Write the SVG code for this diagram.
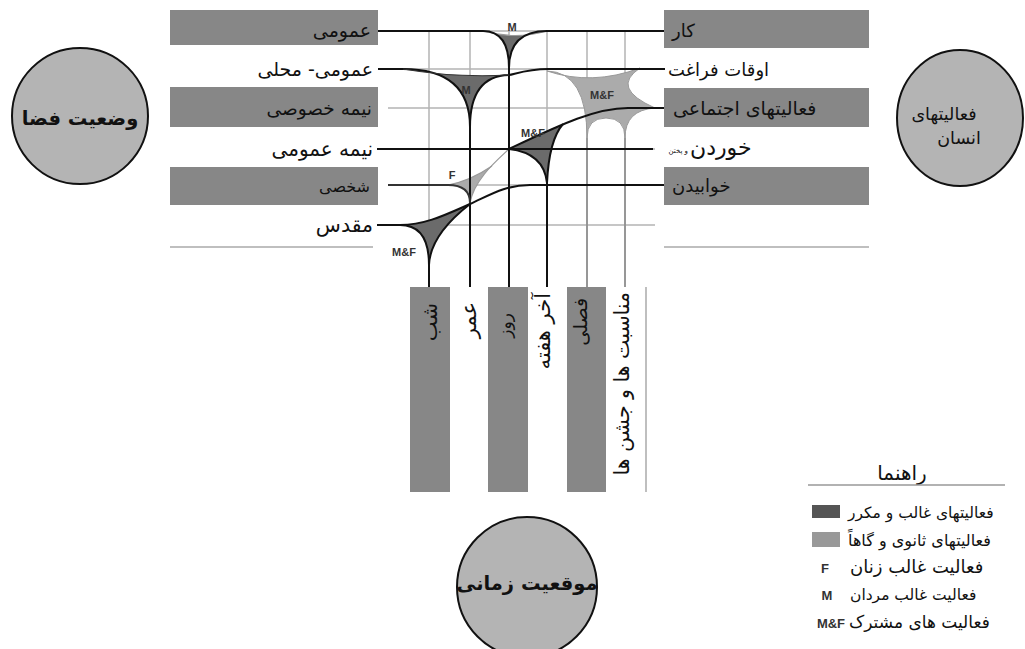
<svg xmlns="http://www.w3.org/2000/svg" width="1025" height="649" viewBox="0 0 1025 649">
<style>
.bar{fill:#878787}
.grid{stroke:#b4b4b4;stroke-width:1.5;fill:none}
.ln{stroke:#111;stroke-width:2;fill:none}
.thin{stroke:#999;stroke-width:1.2;fill:none}
.dk{fill:#6b6b6b}
.lt{fill:#ababab}
.t{font-family:"DejaVu Sans",sans-serif;fill:#111}
.lab{font-family:"Liberation Sans",Arial,sans-serif;font-weight:bold;fill:#333}
.circ{fill:#b4b4b4;stroke:#111;stroke-width:2}
.ct{font-family:"DejaVu Sans",sans-serif;fill:#111}
</style>
<rect width="1025" height="649" fill="#fff"/>

<g id="connectors">
  <g id="grid" class="grid">
    <path d="M388,31H655M388,69H655M388,108H655M388,149H655M388,185H655M388,225H655"/>
    <path d="M429,31V287M470,31V287M509,31V287M547,31V287M587,31V287M625,31V287"/>
  </g>
  <g id="regions">
    <path class="dk" d="M483,31 Q509,31 509,68 Q509,31 547,31 Q515,40 483,31 Z"/>
    <path class="dk" d="M403,69 Q470,69 470,127 Q470,76 509,75 Q455,78 403,69 Z"/>
    <path class="lt" stroke="#999" stroke-width="1" d="M547,71 Q587,72 587,138 Q587,118 606,118 Q625,118 625,138 Q625,110 655,108 Q610,88 640,68 Q592,86 547,71 Z"/>
    <path class="dk" d="M509,149 Q538,134 563,124 Q549,140 547,183 Q544,153 509,149 Z"/>
    <path class="lt" d="M448,185 Q470,185 470,203 C474,185 483,174 492,166 Q470,181 448,185 Z"/>
    <path class="dk" d="M400,225 Q429,225 429,265 C430,240 452,218 470,204 C445,215 425,225 400,225 Z"/>
  </g>
  <g id="lines">
    <path d="M587,138V287M625,138V287" stroke="#888" stroke-width="1.5" fill="none"/>
    <path class="thin" d="M483,31 Q515,40 547,31"/>
    <path class="thin" d="M509,149 C495,162 474,180 470,203"/>
    <path class="thin" d="M448,185 Q470,181 492,166"/>
    <path class="ln" d="M378,31 H483 Q509,31 509,68 V287"/>
    <path class="ln" d="M664,31 H547 Q509,31 509,68"/>
    <path class="ln" d="M378,69 H403 Q470,69 470,127 V287"/>
    <path class="ln" d="M665,69 H548 C528,69 515,74 509,75 Q470,76 470,127"/>
    <path d="M403,69 Q455,78 509,75" stroke="#333" stroke-width="1.2" fill="none"/>
    <path class="ln" d="M377,149 H653"/>
    <path class="ln" d="M664,108 H628 C595,108 560,125 509,149"/>
    <path class="ln" d="M563,124 Q549,140 547,183 V287"/>
    <path class="ln" d="M509,149 Q544,153 547,183"/>
    <path d="M388,185 H448 Q470,185 470,203" stroke="#333" stroke-width="2" fill="none"/>
    <path class="ln" d="M664,185 H530 C505,185 490,195 470,204 C445,215 425,225 400,225 H377"/>
    <path class="ln" d="M400,225 Q429,225 429,265 V287"/>
    <path class="ln" d="M470,204 C452,218 430,240 429,265"/>
    <path d="M170,247H373M664,247H869M646,287V492" stroke="#aaa" stroke-width="1.5" fill="none"/>
  </g>
  <g id="region-labels" class="lab" text-anchor="middle" font-size="11">
    <text x="512" y="31">M</text>
    <text x="466" y="94">M</text>
    <text x="602" y="99">M&amp;F</text>
    <text x="533" y="137">M&amp;F</text>
    <text x="452" y="179">F</text>
    <text x="404" y="256">M&amp;F</text>
  </g>
</g>

<g id="space">
  <circle class="circ" cx="80" cy="116" r="68"/>
  <text class="ct" x="80" y="125" text-anchor="middle" font-size="19.5" font-weight="bold">وضعیت فضا</text>
</g>
<g id="space-rows" class="t" text-anchor="end" font-size="19">
  <g id="s1"><rect class="bar" x="170" y="10" width="208" height="35"/><text x="371" y="37">عمومی</text></g>
  <g id="s2"><text x="373" y="76">عمومی- محلی</text></g>
  <g id="s3"><rect class="bar" x="170" y="87" width="208" height="40"/><text x="372" y="115" font-size="18.5">نیمه خصوصی</text></g>
  <g id="s4"><text x="373" y="156" font-size="20">نیمه عمومی</text></g>
  <g id="s5"><rect class="bar" x="170" y="167" width="208" height="38"/><text x="370" y="192" font-size="16">شخصی</text></g>
  <g id="s6"><text x="373" y="232" font-size="20.5">مقدس</text></g>
</g>

<g id="activity">
  <ellipse class="circ" cx="960" cy="118" rx="63" ry="68"/>
  <text class="ct" x="944" y="120" text-anchor="middle" font-size="17.5">فعالیتهای</text>
  <text class="ct" x="959" y="144" text-anchor="middle" font-size="17.5">انسان</text>
</g>
<g id="activity-rows" class="t" text-anchor="start" font-size="19">
  <g id="a1"><rect class="bar" x="664" y="10" width="205" height="38"/><text x="672" y="37" font-size="18">کار</text></g>
  <g id="a2"><text x="668" y="76" font-size="18">اوقات فراغت</text></g>
  <g id="a3"><rect class="bar" x="664" y="88" width="205" height="39"/><text x="673" y="115">فعالیتهای اجتماعی</text></g>
  <g id="a4"><text x="690" y="155" font-size="22">خوردن</text><text x="688" y="153" text-anchor="end" font-size="7">و پختن</text></g>
  <g id="a5"><rect class="bar" x="664" y="167" width="205" height="38"/><text x="672" y="192" font-size="18">خوابیدن</text></g>
</g>

<g id="time">
  <circle class="circ" cx="527" cy="587" r="70"/>
  <text class="ct" x="527" y="590" text-anchor="middle" font-size="19.5" font-weight="bold">موقعیت زمانی</text>
</g>
<g id="time-columns" class="t" text-anchor="end" font-size="20">
  <g id="c1"><rect class="bar" x="410" y="287" width="40" height="205"/><text transform="translate(437,303) rotate(-90)" font-size="21">شب</text></g>
  <g id="c2"><text transform="translate(476,302) rotate(-90)" font-size="21">عمر</text></g>
  <g id="c3"><rect class="bar" x="488" y="287" width="40" height="205"/><text transform="translate(511,313) rotate(-90)" font-size="17">روز</text></g>
  <g id="c4"><text transform="translate(550,293) rotate(-90)" font-size="21">آخر هفته</text></g>
  <g id="c5"><rect class="bar" x="567" y="287" width="39" height="205"/><text transform="translate(587,298) rotate(-90)" font-size="19">فصلی</text></g>
  <g id="c6"><text transform="translate(629,292) rotate(-90)" font-size="20.5">مناسبت ها و جشن ها</text></g>
</g>

<g id="legend" class="t">
  <text x="902" y="480" text-anchor="middle" font-size="20">راهنما</text>
  <line x1="808" y1="485" x2="1005" y2="485" stroke="#999" stroke-width="1.5"/>
  <rect x="812" y="505" width="28" height="13" fill="#555"/>
  <text x="848" y="518" font-size="15.5">فعالیتهای غالب و مکرر</text>
  <rect x="812" y="532" width="28" height="15" fill="#999"/>
  <text x="848" y="546" font-size="16">فعالیتهای ثانوی و گاهاً</text>
  <text class="lab" x="825" y="573" text-anchor="middle" font-size="13" fill="#111">F</text>
  <text x="850" y="573" font-size="18">فعالیت غالب زنان</text>
  <text class="lab" x="827" y="600" text-anchor="middle" font-size="13" fill="#111">M</text>
  <text x="850" y="600" font-size="15.5">فعالیت غالب مردان</text>
  <text class="lab" x="831" y="628" text-anchor="middle" font-size="13" fill="#111">M&amp;F</text>
  <text x="849" y="628" font-size="17">فعالیت های مشترک</text>
</g>
</svg>
